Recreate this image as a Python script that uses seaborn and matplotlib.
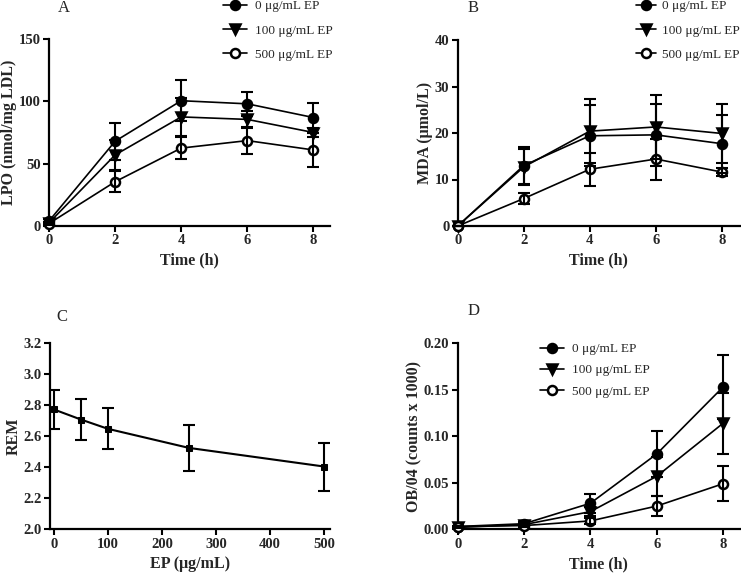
import matplotlib
matplotlib.use("Agg")
import matplotlib.pyplot as plt
import numpy as np
import pandas as pd
import seaborn as sns
from matplotlib.ticker import FormatStrFormatter

# ---- data ----
time_h = [0, 2, 4, 6, 8]
doses = ["0 μg/mL EP", "100 μg/mL EP", "500 μg/mL EP"]

lpo_0 = [4, 68, 100.5, 98, 87]
lpo_0_err = [1.5, 15, 16.5, 9.5, 12]
lpo_100 = [2.5, 57, 87.5, 85.5, 75]
lpo_100_err = [1, 12, 15.5, 6.5, 4]
lpo_500 = [2, 35.5, 62.5, 68.5, 61]
lpo_500_err = [1, 8.5, 8.5, 11, 14]

mda_0 = [0, 13, 19.4, 19.6, 17.7]
mda_0_err = [0, 4, 6.6, 6.7, 6.2]
mda_100 = [0, 12.7, 20.4, 21.3, 19.9]
mda_100_err = [0, 3.8, 6.9, 6.9, 6.3]
mda_500 = [0, 5.9, 12.2, 14.4, 11.6]
mda_500_err = [0, 1.2, 3.5, 4.4, 0.8]

rem_dose = [0, 50, 100, 250, 500]
rem = [2.773, 2.708, 2.648, 2.525, 2.405]
rem_err = [0.128, 0.135, 0.132, 0.15, 0.155]

ob_0 = [0.003, 0.006, 0.028, 0.081, 0.153]
ob_0_err = [0.001, 0.002, 0.010, 0.025, 0.034]
ob_100 = [0.002, 0.005, 0.019, 0.057, 0.114]
ob_100_err = [0.001, 0.002, 0.005, 0.021, 0.033]
ob_500 = [0.003, 0.004, 0.009, 0.025, 0.049]
ob_500_err = [0.001, 0.001, 0.003, 0.011, 0.019]

sns.set_theme(style="ticks")
plt.rcParams['font.family'] = ['Liberation Serif', 'DejaVu Serif']

W, H = 741, 574
fig = plt.figure(figsize=(W / 100, H / 100), dpi=100)


def px_axes(left, top, right, bottom):
    return fig.add_axes([left / W, 1 - bottom / H, (right - left) / W, (bottom - top) / H])


styles = [dict(marker='o', mfc='black'),
          dict(marker='v', mfc='black'),
          dict(marker='o', mfc='white')]


def style_axes(ax, xlabel, ylabel):
    sns.despine(ax=ax)
    for s in ['left', 'bottom']:
        ax.spines[s].set_linewidth(1.6)
        ax.spines[s].set_color('black')
    ax.tick_params(direction='out', length=4, width=1.5, color='black', pad=2,
                   labelsize=10.5)
    for lab in ax.get_xticklabels() + ax.get_yticklabels():
        lab.set_fontweight('bold')
    ax.set_xlabel(xlabel, fontsize=11.5, fontweight='bold', labelpad=4)
    ax.set_ylabel(ylabel, fontsize=11.5, fontweight='bold', labelpad=1)
    ax.grid(False)
    ax.set_facecolor('white')


def time_panel(ax, series, errs):
    handles = []
    for vals, err, st, lab in zip(series, errs, styles, doses):
        df = pd.DataFrame({'t': time_h, 'v': vals})
        sns.lineplot(data=df, x='t', y='v', ax=ax, color='black', lw=1.2,
                     marker=st['marker'], markersize=6.5, mfc=st['mfc'], mec='black',
                     mew=1.8, clip_on=False, zorder=3)
        handles.append(ax.lines[-1])
        eb = ax.errorbar(time_h, vals, yerr=err, fmt='none', ecolor='black',
                         elinewidth=1.5, capsize=4.5, capthick=1.5, zorder=4)
        for a in eb.lines[1] + eb.lines[2]:
            a.set_clip_on(False)
    ax.set_xticks([0, 2, 4, 6, 8])
    return handles


def add_legend(ax, handles, x, y, spacing, hlen=1.8, pad=0.6):
    ax.legend(handles, doses, loc='upper left', bbox_to_anchor=(x / W, 1 - y / H),
              bbox_transform=fig.transFigure, frameon=False, fontsize=9.5,
              handlelength=hlen, handletextpad=pad, labelspacing=spacing,
              borderpad=0, borderaxespad=0)


# A
axA = px_axes(49, 39, 330, 226)
hA = time_panel(axA, [lpo_0, lpo_100, lpo_500], [lpo_0_err, lpo_100_err, lpo_500_err])
axA.set_xlim(0, 8.5)
axA.set_ylim(0, 150)
axA.set_yticks([0, 50, 100, 150])
style_axes(axA, 'Time (h)', 'LPO (nmol/mg LDL)')
add_legend(axA, hA, 223, 0, 0.92)
fig.text(64 / W, 1 - 8 / H, 'A', ha='center', va='center', fontsize=12)

# B
axB = px_axes(457.7, 40, 740, 226)
hB = time_panel(axB, [mda_0, mda_100, mda_500], [mda_0_err, mda_100_err, mda_500_err])
axB.set_xlim(0, 8.55)
axB.set_ylim(0, 40)
axB.set_yticks([0, 10, 20, 30, 40])
style_axes(axB, 'Time (h)', 'MDA (μmol/L)')
add_legend(axB, hB, 636, 0, 0.92, hlen=1.5, pad=0.45)
fig.text(473 / W, 1 - 8 / H, 'B', ha='center', va='center', fontsize=12)

# C
axC = px_axes(50, 343.3, 330, 529.3)
dfc = pd.DataFrame({'dose': rem_dose, 'rem': rem})
sns.lineplot(data=dfc, x='dose', y='rem', ax=axC, color='black', lw=1.5,
             marker='s', markersize=4.5, mfc='black', mec='black', zorder=3)
axC.errorbar(rem_dose, rem, yerr=rem_err, fmt='none', ecolor='black',
             elinewidth=1.5, capsize=4.5, capthick=1.5, zorder=4)
axC.set_xlim(-7.4, 511)
axC.set_ylim(2.0, 3.2)
axC.set_xticks([0, 100, 200, 300, 400, 500])
axC.set_yticks([2.0, 2.2, 2.4, 2.6, 2.8, 3.0, 3.2])
axC.yaxis.set_major_formatter(FormatStrFormatter('%.1f'))
style_axes(axC, 'EP (μg/mL)', 'REM')
fig.text(62 / W, 1 - 317 / H, 'C', ha='center', va='center', fontsize=12)

# D
axD = px_axes(457.7, 343.3, 740, 529.3)
hD = time_panel(axD, [ob_0, ob_100, ob_500], [ob_0_err, ob_100_err, ob_500_err])
axD.set_xlim(0, 8.51)
axD.set_ylim(0, 0.20)
axD.set_yticks([0, 0.05, 0.10, 0.15, 0.20])
axD.yaxis.set_major_formatter(FormatStrFormatter('%.2f'))
style_axes(axD, 'Time (h)', 'OB/04 (counts x 1000)')
add_legend(axD, hD, 540, 343, 0.68)
fig.text(474 / W, 1 - 311 / H, 'D', ha='center', va='center', fontsize=12)

fig.savefig('out.png', dpi=100, facecolor='white')
